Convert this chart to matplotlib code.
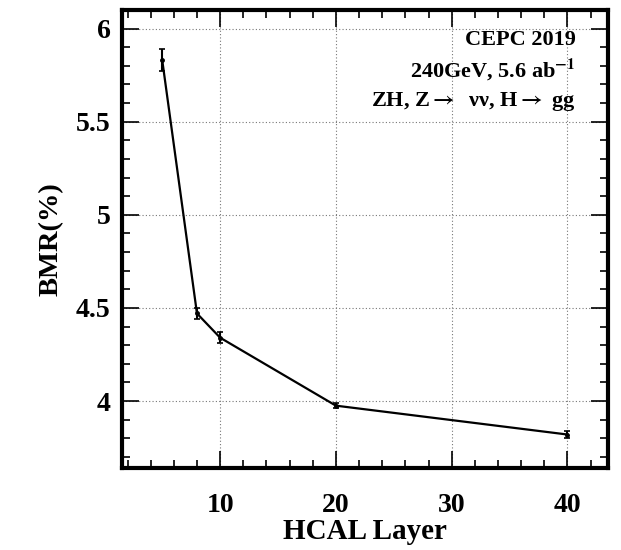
import numpy as np
import matplotlib
matplotlib.use('Agg')
from matplotlib import pyplot as plt
from matplotlib.ticker import MultipleLocator

layers = [5, 8, 10, 20, 40]
bmr = [5.83, 4.47, 4.34, 3.975, 3.82]
bmr_err = [0.06, 0.03, 0.03, 0.012, 0.02]

plt.rcParams['font.family'] = ['Liberation Serif', 'DejaVu Serif']
plt.rcParams['font.weight'] = 'bold'
plt.rcParams['mathtext.fontset'] = 'stix'

fig = plt.figure(figsize=(6.21, 5.5), dpi=100)
ax = fig.add_axes([0.196, 0.149, 0.783, 0.833])

ax.errorbar(layers, bmr, yerr=bmr_err, color='black', lw=1.6, marker='o', ms=2.5,
            elinewidth=1.5, capsize=2, capthick=1.2, zorder=3)

ax.set_xlim(1.5, 43.5)
ax.set_ylim(3.64, 6.1)
ax.xaxis.set_major_locator(MultipleLocator(10))
ax.xaxis.set_minor_locator(MultipleLocator(2))
ax.yaxis.set_major_locator(MultipleLocator(0.5))
ax.yaxis.set_minor_locator(MultipleLocator(0.1))
ax.yaxis.set_major_formatter(plt.FuncFormatter(lambda v, p: ('%g' % v)))

ax.grid(True, which='major', ls=(0, (1, 2)), color='#777777', lw=0.8)
ax.tick_params(which='both', direction='in', top=True, right=True, width=1.2,
               labelsize=20)
ax.tick_params(axis='x', which='both', pad=18)
ax.tick_params(axis='y', which='both', pad=8)
ax.tick_params(which='major', length=12)
ax.tick_params(which='minor', length=6)
for s in ax.spines.values():
    s.set_linewidth(3)

ax.set_xlabel('HCAL Layer', fontsize=21, fontweight='bold', labelpad=0)
ax.set_ylabel('BMR(%)', fontsize=20.5, fontweight='bold', labelpad=9)

kw = dict(transform=ax.transAxes, ha='right', va='center', fontsize=16,
          fontweight='bold')
ax.text(0.934, 0.934, 'CEPC 2019', **kw)
ax.text(0.934, 0.869, '240GeV, 5.6 ab$^{\\mathbf{-1}}$', **kw)
ax.text(0.934, 0.799, 'ZH, Z$\\rightarrow$  \u03bd\u03bd, H$\\rightarrow$ gg', **kw)

plt.savefig('out.png', dpi=100)
